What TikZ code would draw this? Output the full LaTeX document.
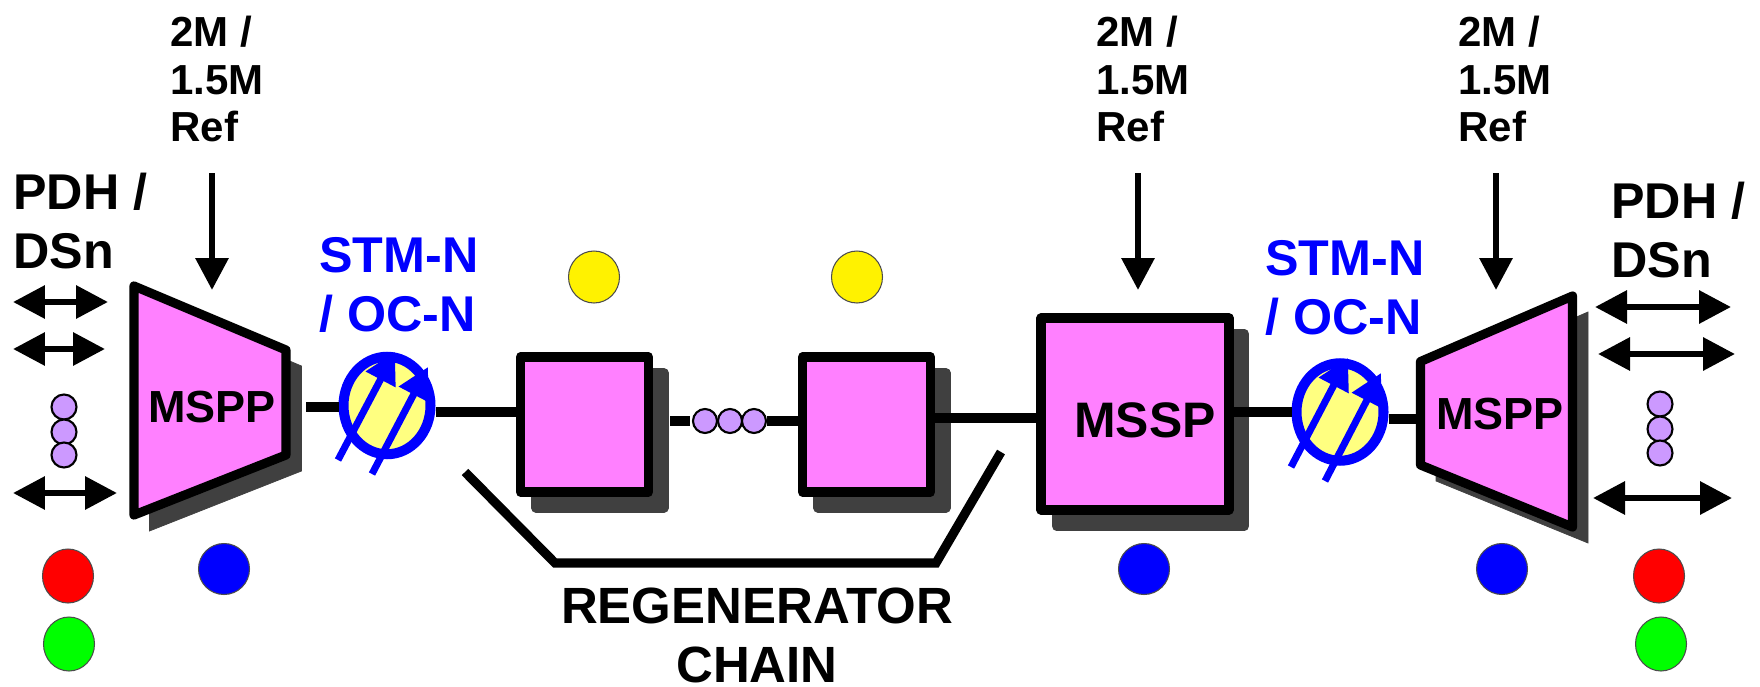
\documentclass[tikz,border=0pt]{standalone}
\usepackage{fontspec}
\setmainfont{Liberation Sans}
\usetikzlibrary{positioning, arrows.meta, shapes.geometric}
\definecolor{shadowgray}{HTML}{404040}
\definecolor{boxpink}{HTML}{FF80FF}
\definecolor{ringyellow}{HTML}{FFFF80}
\definecolor{dotpurple}{HTML}{CC99FF}

\begin{document}
\begin{tikzpicture}[
    x=0.02cm, y=-0.02cm,
    % Styles
    shadowed/.style={
        preaction={draw=shadowgray, fill=shadowgray, transform canvas={xshift=0.31cm, yshift=-0.32cm}}
    },
    muxbox/.style={
        draw, shadowed, line width=5.2pt, line join=round, fill=boxpink
    },
    regenbox/.style={
        muxbox, rectangle, inner sep=0pt, align=center,
        minimum width=2.56cm, minimum height=2.7cm
    },
    muxlabel/.style={font=\fontsize{25.6}{28}\selectfont\bfseries, inner sep=0pt},
    reflabel/.style={
        font=\fontsize{23.9}{27.3}\selectfont\bfseries, inner sep=0pt,
        align=left, anchor=west
    },
    pdhlabel/.style={
        font=\fontsize{28.6}{33.8}\selectfont\bfseries, inner sep=0pt,
        align=left, anchor=west
    },
    stmlabel/.style={pdhlabel, text=blue},
    chainlabel/.style={
        font=\fontsize{29}{33.6}\selectfont\bfseries, inner sep=0pt
    },
    ring/.style={
        draw=blue, fill=ringyellow, line width=5.7pt, ellipse, inner sep=0pt,
        minimum width=1.74cm, minimum height=1.95cm
    },
    led/.style={draw=black!70, line width=0.6pt, ellipse, inner sep=0pt},
    bigled/.style={led, minimum width=1.02cm, minimum height=1.08cm},
    smallled/.style={led, fill=blue, minimum width=1.02cm, minimum height=1.02cm},
    yellowled/.style={led, fill=yellow, minimum width=1.02cm, minimum height=1.04cm},
    moredot/.style={
        draw, fill=dotpurple, line width=1.2pt, ellipse, inner sep=0pt,
        minimum width=0.5cm, minimum height=0.5cm
    },
    link/.style={line width=5.2pt},
    tribline/.style={
        line width=3.6pt,
        <->, >={Triangle[length=0.64cm, width=0.64cm]}
    },
    refline/.style={
        line width=3.6pt,
        ->, >={Triangle[length=0.64cm, width=0.64cm]}
    },
    tuneline/.style={
        draw=blue, line width=4pt,
        ->, >={Triangle[length=0.62cm, width=0.64cm]}
    }
  ]

    \useasboundingbox (0,0) rectangle (1760,686);

    % --- Multiplexers and boxes ---
    \draw[muxbox] (134,286) -- (286,350) -- (286,455) -- (134,515) -- cycle;
    \node (MSPPleft) [muxlabel] at (212,407) {MSPP};
    \draw[muxbox] (1420.5,361.5) -- (1572.5,296) -- (1572.5,527) -- (1420.5,465) -- cycle;
    \node (MSPPright) [muxlabel] at (1500,414) {MSPP};

    \node (regenA) [regenbox] at (584.5,424.5) {};
    \node (regenB) [regenbox] at (866.5,424.5) {};
    \node (MSSP) [muxbox, rectangle, inner sep=0pt, minimum width=3.76cm, minimum height=3.84cm] at (1135,414) {};
    \node (MSSPtext) [muxlabel, font=\fontsize{28.4}{30}\selectfont\bfseries] at (1145,420) {MSSP};

    % --- Tunable rings ---
    \node (ringA) [ring] at (387,405.5) {};
    \node (ringB) [ring] at (1340,412) {};

    % --- Free ends of the lines ---
    \coordinate (muxAout) at (306,407);
    \coordinate (muxBin) at (1420,419);
    \coordinate (chainA) at (465,472);
    \coordinate (chainB) at (555,563);
    \coordinate (chainC) at (936,563);
    \coordinate (chainD) at (1001,452);
    \coordinate (dashA) at (670,421);
    \coordinate (dashB) at (690,421);

    % --- Links ---
    \draw[link] (muxAout) -- (ringA.west |- muxAout);
    \draw[link] (ringA.east |- 0,412) -- (regenA.west |- 0,412);
    \draw[link] (dashA) -- (dashB);
    \draw[link] (regenB.east |- 0,418) -- (MSSP.west |- 0,418);
    \draw[link] (MSSP.east |- ringB) -- (ringB.west);
    \draw[link] (ringB.east |- muxBin) -- (muxBin);
    \draw[link] (chainA) -- (chainB) -- (chainC) -- (chainD);

    % --- Dots between the regenerators ---
    \node (dotA) [moredot, minimum width=0.48cm, minimum height=0.48cm] at (705,421) {};
    \node (dotB) [moredot, minimum width=0.48cm, minimum height=0.48cm] at (730,421) {};
    \node (dotC) [moredot, minimum width=0.48cm, minimum height=0.48cm] at (754,421) {};
    \draw[link] (dotC.east) -- (regenB.west |- dotC);

    % --- Tuning arrows ---
    \coordinate (tuneAs) at (338,460);
    \coordinate (tuneAe) at (395,352);
    \coordinate (tuneBs) at (372,474);
    \coordinate (tuneBe) at (428,367);
    \coordinate (tuneCs) at (1291,467);
    \coordinate (tuneCe) at (1348,358);
    \coordinate (tuneDs) at (1325,481);
    \coordinate (tuneDe) at (1381,373);
    \draw[tuneline] (tuneAs) -- (tuneAe);
    \draw[tuneline] (tuneBs) -- (tuneBe);
    \draw[tuneline] (tuneCs) -- (tuneCe);
    \draw[tuneline] (tuneDs) -- (tuneDe);

    % --- Reference inputs ---
    \node (refA) [reflabel] at (170,79) {2M /\\1.5M\\Ref};
    \node (refB) [reflabel] at (1096,79) {2M /\\1.5M\\Ref};
    \node (refC) [reflabel] at (1458,79) {2M /\\1.5M\\Ref};
    \coordinate (refAs) at (212,173);
    \coordinate (refAe) at (212,290);
    \coordinate (refBs) at (1138,173);
    \coordinate (refBe) at (1138,290);
    \coordinate (refCs) at (1496,173);
    \coordinate (refCe) at (1496,290);
    \draw[refline] (refAs) -- (refAe);
    \draw[refline] (refBs) -- (refBe);
    \draw[refline] (refCs) -- (refCe);

    % --- Tributaries, left ---
    \node (pdhA) [pdhlabel] at (13,221) {PDH /\\DSn};
    \coordinate (tribAa) at (13,302);
    \coordinate (tribAb) at (108,302);
    \coordinate (tribBa) at (13,349);
    \coordinate (tribBb) at (105,349);
    \coordinate (tribCa) at (13,493);
    \coordinate (tribCb) at (117,493);
    \draw[tribline] (tribAa) -- (tribAb);
    \draw[tribline] (tribBa) -- (tribBb);
    \draw[tribline] (tribCa) -- (tribCb);
    \node (leftA) [moredot] at (64,407) {};
    \node (leftB) [moredot] at (64,432) {};
    \node (leftC) [moredot] at (64,455) {};

    % --- Tributaries, right ---
    \node (pdhB) [pdhlabel] at (1611,230) {PDH /\\DSn};
    \coordinate (tribDa) at (1595,307);
    \coordinate (tribDb) at (1731,307);
    \coordinate (tribEa) at (1598,354);
    \coordinate (tribEb) at (1735,354);
    \coordinate (tribFa) at (1593,498);
    \coordinate (tribFb) at (1732,498);
    \draw[tribline] (tribDa) -- (tribDb);
    \draw[tribline] (tribEa) -- (tribEb);
    \draw[tribline] (tribFa) -- (tribFb);
    \node (rightA) [moredot] at (1660,404) {};
    \node (rightB) [moredot] at (1660,429) {};
    \node (rightC) [moredot] at (1660,453) {};

    % --- Line rate labels ---
    \node (stmA) [stmlabel] at (319,285) {STM-N\\/ OC-N};
    \node (stmB) [stmlabel] at (1265,288) {STM-N\\/ OC-N};

    % --- Lamps ---
    \node (redA) [bigled, fill=red] at (68,576) {};
    \node (greenA) [bigled, fill=green] at (69,644) {};
    \node (redB) [bigled, fill=red] at (1659,576) {};
    \node (greenB) [bigled, fill=green] at (1661,644) {};
    \node (blueA) [smallled] at (224,569) {};
    \node (blueB) [smallled] at (1144,569) {};
    \node (blueC) [smallled] at (1502,569) {};
    \node (yellowA) [yellowled] at (594,277) {};
    \node (yellowB) [yellowled] at (857,277) {};

    % --- Chain label ---
    \node (regenname) [chainlabel] at (757,606) {REGENERATOR};
    \node (chainname) [chainlabel] at (757,665) {CHAIN};

\end{tikzpicture}
\end{document}
